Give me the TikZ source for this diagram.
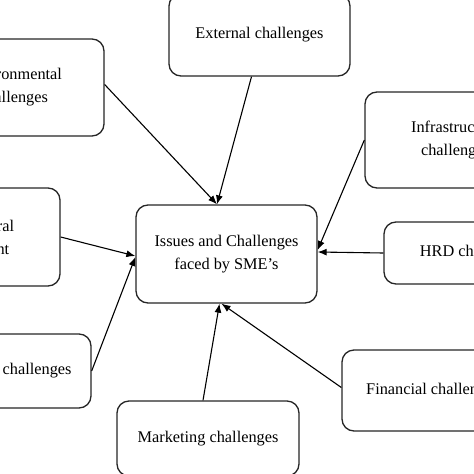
\documentclass[tikz,border=0pt]{standalone}
\usepackage{fontspec}
\setmainfont{Liberation Serif}
\usetikzlibrary{arrows.meta, calc}

\begin{document}
\begin{tikzpicture}[
    x=1pt, y=-1pt,
    >={Latex[length=9pt, width=7pt]},
    box/.style={
        rectangle, rounded corners=12pt,
        draw=black!85, line width=1.3pt, fill=white,
        align=center, inner sep=0pt,
        font=\fontsize{16.3}{23}\selectfont
    },
    arr/.style={line width=1.1pt, ->, black},
]

% Frame of the picture
\useasboundingbox (0,0) rectangle (474,474);
\clip (0,0) rectangle (474,474);

% Centre box
\node[box, minimum width=181pt, minimum height=98pt] (main) at (226.5,254)
    {Issues and Challenges\\faced by SME’s};

% Outer boxes
\node[box, minimum width=181pt, minimum height=82pt] (ext) at (259.5,35) {External challenges};
\node[box, minimum width=181pt, minimum height=97pt] (env) at (13.5,87.5) {Environmental\\challenges};
\node[box, minimum width=184pt, minimum height=98pt] (soc) at (-32,237) {Socio-cultural\\environment};
\node[box, minimum width=204pt, minimum height=74pt] (tech) at (-11,371) {Technological challenges};
\node[box, minimum width=182pt, minimum height=75pt] (mkt) at (208,438.5) {Marketing challenges};
\node[box, minimum width=181pt, minimum height=96pt] (infra) at (455.5,140) {Infrastructure\\challenges};
\node[box, minimum width=179pt, minimum height=62pt] (hrd) at (473.5,253) {HRD challenges};
\node[box, minimum width=182pt, minimum height=81pt] (fin) at (433,390.5) {Financial challenges};

% Arrows into the centre box
\draw[arr] ([yshift=3pt]env.east) -- ([xshift=-9.5pt]main.north);
\draw[arr] ([xshift=-8pt]ext.south) -- ([xshift=-9.5pt]main.north);
\draw[arr] (infra.west) -- ([yshift=4pt]main.east);
\draw[arr] (hrd.west) -- ([yshift=2pt]main.east);
\draw[arr] ([yshift=3pt]fin.west) -- ([xshift=-5pt]main.south);
\draw[arr] ([xshift=-5pt]mkt.north) -- ([xshift=-7pt]main.south);
\draw[arr] (tech.east) -- ([yshift=-3pt]main.west);
\draw[arr] (soc.east) -- ([yshift=-2pt]main.west);

\end{tikzpicture}
\end{document}
